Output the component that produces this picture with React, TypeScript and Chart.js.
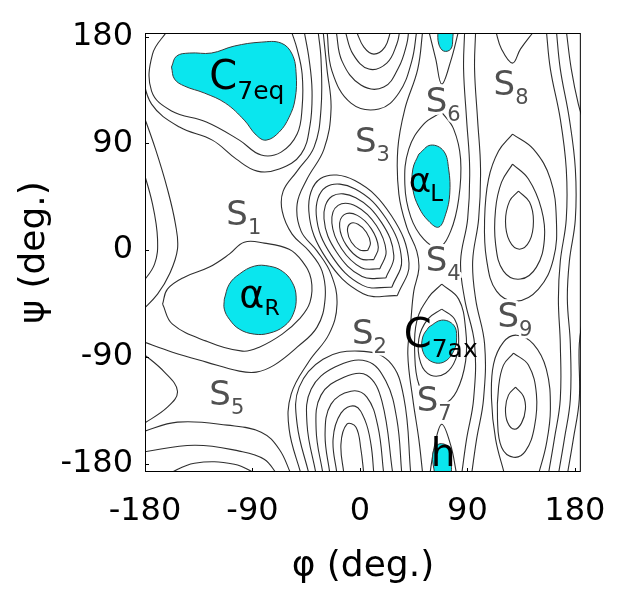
import React, { useEffect, useRef } from "react";
import { Chart, registerables } from "chart.js";

Chart.register(...registerables);

// ---- axis ticks (degrees) ----
const phiTicks = [-180, -90, 0, 90, 180];
const psiTicks = [-180, -90, 0, 90, 180];

// ---- cyan low-energy basins [phi, psi] ----
const c7eqBasin = [[-157.8,154.3],[-153.6,163.5],[-142.8,166.1],[-124.4,166.1],[-105.2,172],[-82.7,175.3],[-66,174.5],[-56.8,165.2],[-53.4,148.4],[-54.3,127.3],[-59.3,112.1],[-67.6,99.5],[-78.5,92.7],[-86.8,96.9],[-96.9,109.6],[-112.7,123.9],[-130.3,132.4],[-147,138.3],[-155.3,144.2]];
const alphaRBasin = [[-113.6,-41.3],[-109.4,-28.7],[-101,-20.2],[-88.5,-13.5],[-76,-13.5],[-65.1,-17.7],[-56.8,-27],[-53.4,-39.6],[-55.9,-54],[-63.5,-64.1],[-76,-70],[-88.5,-70.8],[-101,-66.6],[-109.4,-58.2],[-113.6,-49.7]];
const alphaLBasin = [[49.3,80.9],[59.3,88.5],[70.1,83.5],[74.3,68.3],[75.2,47.2],[71.8,30.3],[66,19.4],[57.6,24.4],[49.3,36.2],[44.3,51.4],[44.3,68.3]];
const c7axBasin = [[57.6,-64.9],[68.5,-59],[78.5,-63.2],[81,-73.3],[78.5,-85.1],[70.1,-94.4],[59.3,-93.6],[52.6,-85.1],[52.6,-73.3]];
const topBasin = [[65.1,185],[66,173.7],[70.1,167.8],[76,169.4],[77.7,177.9],[76.8,185]];
const bottomBasin = [[62.6,-189],[61,-172],[66,-163.5],[74.3,-166],[76,-176],[75.2,-189]];

// ---- contour lines [phi, psi] ----
const c7eqRing1 = [[-161.2,185],[-173.7,165.2],[-174.5,134],[-157.8,117.3],[-128.6,108],[-101,92.7],[-82.7,80.1],[-66,82.6],[-52.6,97.8],[-48.4,120.5],[-48.4,148.4],[-52.6,169.4],[-57.6,185]];
const c7eqRing2 = [[-183,150.9],[-174.5,123.1],[-151.1,103.7],[-123.6,92.7],[-103.5,76.7],[-86,66.6],[-67.6,68.3],[-49.3,80.9],[-41.8,105.4],[-40.1,134],[-42.6,161],[-46.8,185]];
const alphaRRing1 = [[-165.3,-45.5],[-161.2,-32.9],[-147,-22.8],[-126.1,-14.3],[-109.4,-3.4],[-96.9,6.7],[-80.2,5.9],[-59.3,0.8],[-48.4,-9.3],[-40.9,-24.4],[-41.8,-43.8],[-50.9,-58.2],[-65.1,-70.8],[-84.3,-81.8],[-98.5,-85.1],[-128.6,-76.7],[-157,-62.4]];
const alphaRRing2 = [[-183,-76.7],[-157,-86],[-128.6,-94.4],[-101,-102],[-86.8,-102.8],[-71.8,-96.9],[-52.6,-81.8],[-35.9,-64.9],[-29.2,-41.3],[-31.7,-17.7],[-42.6,-0.8],[-56.8,13.5],[-65.1,32.9],[-64.3,49.7],[-52.6,66.6],[-38.4,86.8],[-32.6,118.9],[-32.6,161],[-35.1,185]];
const ridgeWestBand = [[-30.9,185],[-27.6,152.6],[-24.2,118.9],[-30.1,85.1],[-44.3,59.9],[-52.6,38.8],[-49.3,16],[-35.9,-0.8],[-24.2,-20.2],[-19.2,-45.5],[-25.9,-70.8],[-42.6,-93.6],[-57.6,-121.4],[-59.3,-150.9],[-49.3,-189]];
const leftEdge1 = [[-183,118.9],[-171.2,85.1],[-161.2,51.4],[-154.5,21.9],[-152.8,0.8],[-159.5,-20.2],[-169.5,-37.1],[-183,-51.4]];
const leftEdge2 = [[-183,72.5],[-173.7,38.8],[-169.5,9.3],[-172,-11.8],[-183,-28.7]];
const leftEdge3 = [[-183,-86],[-163.7,-102.8],[-152.8,-118.9],[-161.2,-132.4],[-183,-147.5]];
const bottomWrap1 = [[-183,-153.4],[-152.8,-145],[-111.1,-147.5],[-82.7,-153.4],[-67.6,-167.8],[-57.6,-189]];
const bottomWrap2 = [[-183,-170.3],[-138.6,-164.4],[-101,-169.4],[-80.2,-176.2],[-69.3,-189]];
const bottomWrap3 = [[-161.2,-189],[-138.6,-179.6],[-105.2,-180.4],[-86,-189]];

const centerLoop1 = [[6.5,-0.3],[8.8,6],[5.4,15.1],[-1.6,21.8],[-8.2,22.3],[-10.4,15.9],[-7.1,6.7],[-0.1,0.1]];
const centerLoop2 = [[11.6,-8],[15.4,2.4],[9.6,17.9],[-2.2,29.3],[-13.2,29.9],[-17,19.5],[-11.3,4],[0.5,-7.3]];
const centerLoop3 = [[16.6,-15.8],[21.9,-1],[13.8,20.7],[-2.8,36.8],[-18.3,37.7],[-23.5,22.9],[-15.4,1.2],[1.2,-14.8]];
const centerLoop4 = [[21.7,-23.5],[28.4,-4.6],[18,23.4],[-3.5,44.2],[-23.4,45.4],[-30.1,26.5],[-19.6,-1.6],[1.8,-22.3]];
const centerLoop5 = [[26.7,-31.3],[34.9,-8.1],[22.2,26.2],[-4,51.6],[-28.4,53.2],[-36.6,30],[-23.9,-4.4],[2.3,-29.7]];
const centerLoop6 = [[31.3,-38.4],[41.1,-11],[26.4,29],[-4.3,58.6],[-33,60.3],[-42.8,33],[-28.1,-7.2],[2.7,-36.7]];

const topPeak1 = [[-3.3,185],[3.3,171.1],[11.7,165.2],[20.9,171.1],[25.9,185]];
const topPeak2 = [[-12.5,185],[-5.8,165.2],[7.5,152.6],[22.5,157.6],[30.9,173.7],[33.4,185]];
const topPeak3 = [[-20,185],[-15,159.3],[0.8,139.1],[20,137.4],[32.6,154.3],[39.2,173.7],[40.9,185]];
const topPeak4 = [[-27.6,185],[-23.4,150.9],[-7.5,123.9],[15.9,118.9],[32.6,132.4],[43.4,159.3],[47.6,185]];

const bottomPeak1 = [[-13.4,-189],[-15.9,-163.5],[-10.9,-146.7],[-3.3,-149.2],[0.8,-167.8],[3.3,-189]];
const bottomPeak2 = [[-19.2,-189],[-22.5,-159.3],[-15.9,-137.4],[-4.2,-131.5],[4.2,-143.3],[9.2,-163.5],[11.7,-189]];
const bottomPeak3 = [[-25.1,-189],[-29.2,-155.1],[-24.2,-129.8],[-7.5,-118.9],[5.8,-123.9],[15,-148.4],[20,-189]];
const bottomPeak4 = [[-30.9,-189],[-36.7,-150.9],[-32.6,-122.2],[-13.4,-107.1],[5.8,-105.4],[18.4,-127.3],[27.6,-189]];
const bottomPeak5 = [[-36.7,-189],[-44.3,-146.7],[-40.9,-117.2],[-20.9,-98.6],[5.8,-93.6],[21.7,-110.4],[30.9,-142.5],[35.1,-189]];
const bottomPeak6 = [[-42.6,-189],[-52.6,-146.7],[-50.9,-115.5],[-30.9,-91.9],[-0.8,-85.1],[24.2,-93.6],[36.7,-123.9],[42.6,-189]];

const alphaLRing = [[68.5,116.3],[78.5,102],[84.3,76.7],[82.7,43],[76,16],[66,2.5],[53.4,9.3],[42.6,27.8],[37.6,55.6],[40.9,85.1],[53.4,106.2]];
const middleBand = [[52.6,185],[48.4,152.6],[37.6,118.9],[31.7,85.1],[32.6,47.2],[39.2,19.4],[47.6,-0.8],[49.3,-16],[45.1,-34.6],[42.6,-59.9],[40.1,-87.7],[44.3,-125.6],[49.3,-159.3],[52.6,-189]];
const c7axRing1 = [[68.5,-49.7],[79.3,-58.2],[82.7,-75],[80.2,-91.9],[71.8,-103.7],[59.3,-105.4],[50.9,-95.3],[49.3,-75],[56.8,-58.2]];
const c7axRing2 = [[68.5,-28.7],[82.7,-41.3],[88.5,-66.6],[88.5,-93.6],[81,-118.9],[70.1,-129.8],[59.3,-127.3],[49.3,-113],[45.9,-87.7],[47.6,-59.9],[57.6,-39.6]];
const topWell = [[57.6,185],[63.5,161],[68.5,140],[76,159.3],[82.7,185]];
const bottomWell = [[58.5,-189],[62.6,-164.4],[68.5,-146.7],[76,-164.4],[81,-189]];
const eastBand1 = [[87.7,185],[86.8,152.6],[89.3,110.4],[91.9,68.3],[90.2,26.1],[84.3,-9.3],[87.7,-41.3],[96,-79.2],[95.2,-125.6],[89.3,-159.3],[85.2,-189]];
const eastBand2 = [[96.9,185],[96,152.6],[98.5,110.4],[101,68.3],[99.4,26.1],[94.4,-9.3],[96.9,-41.3],[104.4,-79.2],[103.5,-125.6],[97.7,-159.3],[93.5,-189]];

const ridgeLoop1 = [[132.8,49.7],[142,40.5],[145.3,24.4],[142,7.6],[133.6,0.8],[125.3,7.6],[121.9,24.4],[125.3,41.3]];
const ridgeLoop2 = [[127.8,72.5],[141.1,59.9],[152,34.6],[154.5,9.3],[147.8,-14.3],[134.4,-24.4],[120.2,-17.7],[113.6,5.1],[113.6,34.6],[118.6,57.3]];
const ridgeLoop3 = [[127.8,97.8],[145.3,85.1],[159.5,59.9],[164.5,26.1],[162,-7.6],[149.5,-32.9],[131.1,-43],[114.4,-34.6],[106,-7.6],[104.4,26.1],[107.7,59.9],[116.1,83.5]];
const lowerRidgeLoop1 = [[130.3,-115.5],[136.9,-123.1],[138.6,-134],[135.3,-145.8],[129.4,-150.9],[123.6,-145],[121.9,-133.2],[124.4,-122.2]];
const lowerRidgeLoop2 = [[128.6,-86.8],[141.1,-96.9],[147.8,-121.4],[146.1,-149.2],[138.6,-169.4],[128.6,-174.5],[118.6,-166.1],[115.2,-142.5],[116.1,-115.5],[120.2,-96.9]];
const lowerRidgeOpen = [[121.1,-189],[113.6,-159.3],[110.2,-125.6],[111.9,-96.1],[120.2,-77.6],[131.1,-71.7],[145.3,-79.2],[156.1,-100.3],[159.5,-134],[156.1,-163.5],[149.5,-189]];
const ridgeTopCap = [[113.6,185],[118.6,169.4],[127.8,157.6],[134.4,169.4],[146.1,185]];
const rightBand1 = [[156.1,185],[159.5,152.6],[167.8,110.4],[172.8,68.3],[172.8,26.1],[167.8,-9.3],[166.2,-41.3],[167.8,-79.2],[167.8,-125.6],[162.8,-159.3],[157.8,-189]];
const rightBand2 = [[164.5,185],[167.8,152.6],[175.4,110.4],[180.4,68.3],[180.4,26.1],[175.4,-9.3],[173.7,-41.3],[176.2,-79.2],[176.2,-125.6],[171.2,-159.3],[166.2,-189]];
const rightBand3a = [[172.8,185],[177,152.6],[182.9,123.1],[188,106.2]];
const rightBand3b = [[188,-49.7],[183.7,-79.2],[183.7,-125.6],[178.7,-159.3],[173.7,-189]];

// ---- region labels (anchor = baseline-left of main glyph, degrees) ----
const regionLabels = [
  { main: "S", sub: "1", phi: -111.9, psi: 21.1, kind: "saddle" },
  { main: "S", sub: "2", phi: -6.7, psi: -79.2, kind: "saddle" },
  { main: "S", sub: "3", phi: -4.2, psi: 82.6, kind: "saddle" },
  { main: "S", sub: "4", phi: 55.1, psi: -17.7, kind: "saddle" },
  { main: "S", sub: "5", phi: -126.1, psi: -130.7, kind: "saddle" },
  { main: "S", sub: "6", phi: 55.1, psi: 116.3, kind: "saddle" },
  { main: "S", sub: "7", phi: 47.6, psi: -135.7, kind: "saddle" },
  { main: "S", sub: "8", phi: 111.9, psi: 130.7, kind: "saddle" },
  { main: "S", sub: "9", phi: 115.2, psi: -64.9, kind: "saddle" },
  { main: "C", sub: "7eq", phi: -126.1, psi: 135.7, kind: "cLabel" },
  { main: "α", sub: "R", phi: -101, psi: -48.1, kind: "aR" },
  { main: "α", sub: "L", phi: 40.9, psi: 48.9, kind: "aL" },
  { main: "C", sub: "7ax", phi: 36.7, psi: -81.8, kind: "cLabel" },
  { main: "h", sub: "", phi: 59.3, psi: -182.1, kind: "h" },
];

const labelStyles: Record<string, any> = {
  saddle: { size: 34, subSize: 21, subDy: 9, subDx: 0, color: "#505050", halo: true, weight: "normal" },
  cLabel: { size: 40, subSize: 25, subDy: 10, subDx: 0, color: "#000", halo: false, weight: "normal" },
  aR: { size: 38, subSize: 22, subDy: 8, subDx: 0, color: "#000", halo: false, weight: "normal" },
  aL: { size: 34, subSize: 23, subDy: 9, subDx: -1, color: "#000", halo: false, weight: "normal" },
  h: { size: 39, subSize: 20, subDy: 0, subDx: 0, color: "#000", halo: false, weight: "normal" },
};

const FONT = "'DejaVu Sans', sans-serif";
const CYAN = "#0ae6ee";
const LINE = "#2e2e2e";

const basins = [c7eqBasin, alphaRBasin, alphaLBasin, c7axBasin, topBasin, bottomBasin];
const closedContours = [
  alphaRRing1, centerLoop1, centerLoop2, centerLoop3, centerLoop4, centerLoop5, centerLoop6,
  alphaLRing, c7axRing1, c7axRing2, ridgeLoop1, ridgeLoop2, ridgeLoop3, lowerRidgeLoop1, lowerRidgeLoop2,
];
const openContours = [
  c7eqRing1, c7eqRing2, alphaRRing2, ridgeWestBand, leftEdge1, leftEdge2, leftEdge3,
  bottomWrap1, bottomWrap2, bottomWrap3, topPeak1, topPeak2, topPeak3, topPeak4,
  bottomPeak1, bottomPeak2, bottomPeak3, bottomPeak4, bottomPeak5, bottomPeak6,
  middleBand, topWell, bottomWell, eastBand1, eastBand2, lowerRidgeOpen, ridgeTopCap,
  rightBand1, rightBand2, rightBand3a, rightBand3b,
];

const toXY = (pts: number[][], close: boolean) => {
  const d = pts.map(([x, y]) => ({ x, y }));
  if (close) d.push({ x: pts[0][0], y: pts[0][1] });
  return d;
};

const overlayPlugin = {
  id: "overlay",
  afterDatasetsDraw(chart: any) {
    const { ctx, chartArea: a, scales } = chart;
    const xs = scales.x, ys = scales.y;
    ctx.save();
    ctx.beginPath();
    ctx.rect(a.left, a.top, a.right - a.left, a.bottom - a.top);
    ctx.clip();
    ctx.textAlign = "left";
    ctx.textBaseline = "alphabetic";
    ctx.lineJoin = "round";
    for (const l of regionLabels) {
      const st = labelStyles[l.kind];
      const px = xs.getPixelForValue(l.phi);
      const py = ys.getPixelForValue(l.psi);
      ctx.font = `${st.weight} ${st.size}px ${FONT}`;
      const w = ctx.measureText(l.main).width;
      if (st.halo) {
        ctx.strokeStyle = "#fff";
        ctx.lineWidth = 6;
        ctx.strokeText(l.main, px, py);
      }
      ctx.fillStyle = st.color;
      ctx.fillText(l.main, px, py);
      if (l.sub) {
        ctx.font = `${st.weight} ${st.subSize}px ${FONT}`;
        const sx = px + w + st.subDx, sy = py + st.subDy;
        if (st.halo) {
          ctx.strokeStyle = "#fff";
          ctx.lineWidth = 5;
          ctx.strokeText(l.sub, sx, sy);
        }
        ctx.fillStyle = st.color;
        ctx.fillText(l.sub, sx, sy);
      }
    }
    ctx.restore();
    // frame with small inward ticks
    ctx.save();
    ctx.strokeStyle = "#000";
    ctx.lineWidth = 1;
    ctx.strokeRect(a.left + 0.5, a.top + 0.5, a.right - a.left - 1, a.bottom - a.top - 1);
    ctx.beginPath();
    for (const t of psiTicks) {
      const p = Math.round(ys.getPixelForValue(t)) + 0.5;
      ctx.moveTo(a.left, p); ctx.lineTo(a.left + 4, p);
    }
    for (const t of phiTicks) {
      const p = Math.round(xs.getPixelForValue(t)) + 0.5;
      ctx.moveTo(p, a.bottom); ctx.lineTo(p, a.bottom - 4);
    }
    ctx.stroke();
    ctx.restore();
  },
};

export default function App() {
  const ref = useRef<HTMLCanvasElement>(null);
  useEffect(() => {
    const datasets: any[] = [];
    basins.forEach((b) =>
      datasets.push({
        data: toXY(b, true),
        showLine: true,
        fill: "shape",
        backgroundColor: CYAN,
        borderColor: "#3a3a3a",
        borderWidth: 1,
        pointRadius: 0,
        tension: 0.4,
      })
    );
    closedContours.forEach((c) =>
      datasets.push({ data: toXY(c, true), showLine: true, fill: false, borderColor: LINE, borderWidth: 1.1, pointRadius: 0, tension: 0.4 })
    );
    openContours.forEach((c) =>
      datasets.push({ data: toXY(c, false), showLine: true, fill: false, borderColor: LINE, borderWidth: 1.1, pointRadius: 0, tension: 0.4 })
    );
    const chart = new Chart(ref.current as HTMLCanvasElement, {
      type: "scatter",
      data: { datasets },
      options: {
        animation: false,
        responsive: false,
        devicePixelRatio: 1,
        layout: { padding: { top: 33, right: 43, left: 0, bottom: 0 } },
        elements: { line: { capBezierPoints: false } },
        plugins: { legend: { display: false }, tooltip: { enabled: false } },
        events: [],
        scales: {
          x: {
            type: "linear",
            min: -180,
            max: 185,
            grid: { display: false, drawTicks: false },
            border: { display: false },
            afterBuildTicks: (s: any) => { s.ticks = phiTicks.map((v) => ({ value: v })); },
            afterFit: (s: any) => { s.height = 122; },
            ticks: { autoSkip: false, maxRotation: 0, padding: 20, color: "#000", font: { family: FONT, size: 32 }, callback: (v: any) => String(v) },
            title: { display: true, text: "φ (deg.)", color: "#000", font: { family: FONT, size: 36 }, padding: { top: 0, bottom: 6 } },
          },
          y: {
            type: "linear",
            min: -187,
            max: 183,
            grid: { display: false, drawTicks: false },
            border: { display: false },
            afterBuildTicks: (s: any) => { s.ticks = psiTicks.map((v) => ({ value: v })); },
            afterFit: (s: any) => { s.width = 145; },
            ticks: { autoSkip: false, padding: 12, color: "#000", font: { family: FONT, size: 32 }, callback: (v: any) => String(v) },
            title: { display: true, text: "ψ (deg.)", color: "#000", font: { family: FONT, size: 36 }, padding: { top: 13, bottom: 0 } },
          },
        },
      },
      plugins: [overlayPlugin],
    } as any);
    return () => chart.destroy();
  }, []);
  return (
    <div style={{ position: "absolute", left: 0, top: 0, width: 626, height: 594, background: "#fff" }}>
      <canvas ref={ref} width={626} height={594} style={{ width: 626, height: 594, display: "block" }} />
    </div>
  );
}
